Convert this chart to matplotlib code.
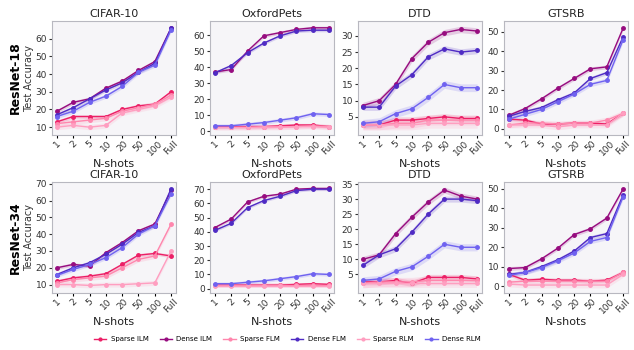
import numpy as np
import matplotlib
matplotlib.use("Agg")
import matplotlib.pyplot as plt

x_labels = ["1", "2", "5", "10", "20", "50", "100", "Full"]
datasets = ["CIFAR-10", "OxfordPets", "DTD", "GTSRB"]
models = ["ResNet-18", "ResNet-34"]
series_names = ["Sparse ILM", "Dense ILM", "Sparse FLM", "Dense FLM", "Sparse RLM", "Dense RLM"]
series_colors = ["#ec1f66", "#970c7f", "#ff86ad", "#4f2bc4", "#ff9ec0", "#6f62f0"]
band_width = [1.0, 1.0, 1.5, 1.0, 1.5, 1.2]

# ResNet-18, order follows series_names
r18_cifar = [
    [13, 16, 16, 16, 20, 22, 23, 30],
    [19, 24, 26, 32, 36, 42, 47, 66],
    [12, 13, 14, 15, 19, 21, 23, 28],
    [17, 21, 26, 31, 35, 41, 46, 66],
    [10, 11, 10, 11, 18, 20, 22, 27],
    [16, 19, 24, 27.5, 33, 41, 45, 65],
]
r18_pets = [
    [3, 3, 3, 3, 3.5, 4, 4, 3],
    [37, 38.5, 50, 59.5, 61.5, 63.5, 64.5, 64.5],
    [2.5, 2.5, 2.5, 3, 3, 3, 3.5, 3],
    [36.5, 41, 49, 55, 59.5, 62.5, 63, 63],
    [2.5, 2.5, 2.5, 2.5, 2.5, 3, 3, 2.5],
    [3.5, 3.5, 4.5, 5.5, 7, 8.5, 11, 10.5],
]
r18_dtd = [
    [2.5, 2.5, 4, 4, 4.5, 5, 4.5, 4.5],
    [8.5, 10, 15, 23, 28, 31, 32, 31.5],
    [2.5, 2.5, 3, 3, 4, 4, 4, 4],
    [8, 8, 14.5, 18, 23.5, 26, 25, 25.5],
    [2.5, 2.5, 2.5, 2.5, 3, 3, 3, 3],
    [3, 3.5, 6, 7.5, 11, 15, 14, 14],
]
r18_gtsrb = [
    [5, 4.5, 2.5, 2.5, 3, 3, 2.5, 8],
    [7, 10.5, 15.5, 21, 26, 31, 32, 52],
    [2, 3, 3, 2.5, 3, 3, 4.5, 8],
    [6.5, 9, 11, 15, 18.5, 26, 29, 47.5],
    [2, 2, 2, 1, 2, 2, 2, 8],
    [5, 7.5, 10, 14, 18, 23, 25, 46],
]

# ResNet-34
r34_cifar = [
    [12, 14, 15, 16.5, 22, 27.5, 28.5, 27],
    [20, 22, 21, 29, 35, 42, 46, 66],
    [11, 13, 14, 15, 20, 25, 27, 46],
    [16, 20, 23, 28, 34, 41, 45, 67],
    [10, 10, 9.5, 10, 10, 10.5, 11, 30],
    [15.5, 19, 22, 26, 32, 40, 45, 64],
]
r34_pets = [
    [2.5, 2.5, 2.5, 2.5, 2.5, 3, 3.5, 3],
    [43, 49, 61, 65, 66.5, 70, 70.5, 70.5],
    [2.5, 2.5, 2.5, 2.5, 2.5, 2.5, 2.5, 2.5],
    [41, 46, 57, 62, 65, 69, 70, 70],
    [2, 2, 2, 2, 2, 2, 2, 2],
    [3.5, 3.5, 4.5, 5.5, 7, 8.5, 10.5, 10],
]
r34_dtd = [
    [2.5, 2.5, 3, 2, 4, 4, 4, 3.5],
    [10, 11.5, 18.5, 24, 29, 33, 31, 30],
    [2, 2.5, 2.5, 2.5, 3, 3, 3, 3],
    [8, 11.5, 13.5, 19, 25, 30, 30, 29.5],
    [2, 2, 2, 2, 2, 2, 2, 2],
    [3, 3.5, 6, 7.5, 11, 15, 14, 14],
]
r34_gtsrb = [
    [6, 3, 3.5, 3, 3, 2.5, 3, 7],
    [9, 9.5, 14, 19.5, 26.5, 29.5, 35, 50],
    [2, 2.5, 2.5, 2.5, 2.5, 2.5, 2.5, 7],
    [6, 7, 10, 13.5, 18, 25, 27, 47],
    [1, 0.5, 0.5, 0.5, 0.5, 0.5, 0.5, 6],
    [5.5, 7, 9.5, 13, 17, 23, 25, 46],
]

panels = [[r18_cifar, r18_pets, r18_dtd, r18_gtsrb],
          [r34_cifar, r34_pets, r34_dtd, r34_gtsrb]]
yticks = [[range(10, 61, 10), range(0, 61, 10), range(5, 31, 5), range(0, 51, 10)],
          [range(10, 71, 10), range(0, 71, 10), range(5, 36, 5), range(0, 51, 10)]]

fig = plt.figure(figsize=(6.34, 3.5), dpi=100)
lefts = [52, 210, 358, 504]
ax_w = 124
tops = [21, 182]
ax_h = [114, 111]
W, H = 634, 350

xs = np.arange(len(x_labels))
handles = []
for r in range(2):
    for c in range(4):
        ax = fig.add_axes([lefts[c] / W, 1 - (tops[r] + ax_h[r]) / H, ax_w / W, ax_h[r] / H])
        ax.set_facecolor("#f6f5f8")
        for sp in ax.spines.values():
            sp.set_color("#b8b8c0")
            sp.set_linewidth(0.8)
        for k, vals in enumerate(panels[r][c]):
            v = np.array(vals, dtype=float)
            ax.fill_between(xs, v - band_width[k], v + band_width[k],
                            color=series_colors[k], alpha=0.18, lw=0)
            h, = ax.plot(xs, v, color=series_colors[k], marker="o", ms=2.5, lw=1.0,
                         label=series_names[k])
            if r == 0 and c == 0:
                handles.append(h)
        ax.set_xticks(xs)
        ax.set_xticklabels(x_labels, rotation=45, fontsize=6.5, color="#333333")
        ax.set_yticks(list(yticks[r][c]))
        ax.tick_params(axis="y", labelsize=6.5, colors="#333333", length=2, pad=1.5)
        ax.tick_params(axis="x", length=2, pad=1)
        ax.set_xlim(-0.3, len(x_labels) - 0.7)
        ax.set_title(datasets[c], fontsize=8, pad=3, color="#222222")
        ax.set_xlabel("N-shots", fontsize=8, labelpad=1, color="#222222")
        if c == 0:
            ax.set_ylabel("Test Accuracy", fontsize=7, labelpad=1, color="#333333")
            fig.text(15 / W, 1 - (tops[r] + ax_h[r] / 2) / H, models[r], rotation=90,
                     fontsize=9, fontweight="bold", ha="center", va="center")

fig.legend(handles=handles, loc="center", bbox_to_anchor=(0.453, 1 - 339 / H), ncol=6,
           frameon=False, fontsize=5, handlelength=1.8, handletextpad=0.6,
           columnspacing=1.6, markerscale=0.8)

fig.savefig("out.png", dpi=100)
